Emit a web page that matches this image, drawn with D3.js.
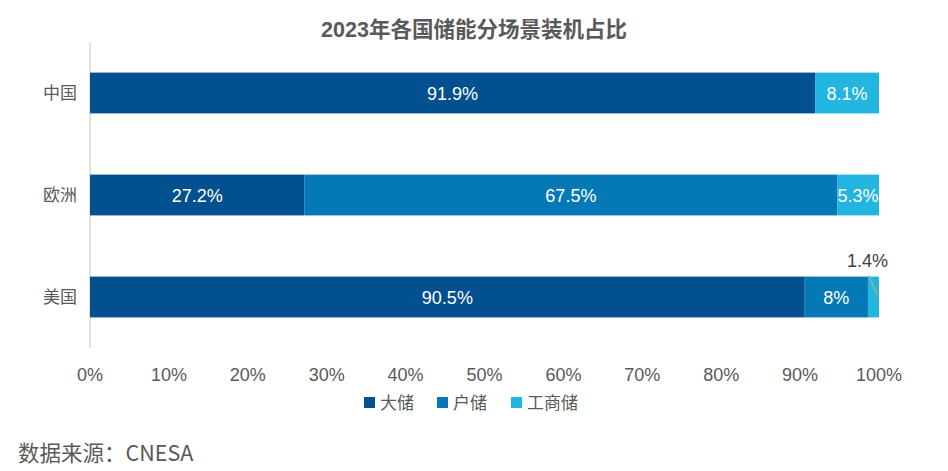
<!DOCTYPE html>
<html><head><meta charset="utf-8">
<script src="https://cdn.jsdelivr.net/npm/d3@7"></script>
<style>body{margin:0;background:#fff}svg{display:block}</style>
</head><body>
<svg id="c" width="948" height="471"></svg>
<script>
const categories = ["中国","欧洲","美国"];
const seriesNames = ["大储","户储","工商储"];
const bigStorage = [91.9, 27.2, 90.5];
const homeStorage = [0, 67.5, 8];
const commercialStorage = [8.1, 5.3, 1.4];
const tickLabels = ["0%","10%","20%","30%","40%","50%","60%","70%","80%","90%","100%"];
const colors = ["#02508f","#0479b5","#21b5e0"];
const seriesValues = [bigStorage, homeStorage, commercialStorage];

const svg = d3.select("#c");
const font = "'Liberation Sans','Noto Sans CJK SC',sans-serif";
const cjk = "'Noto Sans CJK SC',sans-serif";
const x = d3.scaleLinear().domain([0,1]).range([90,879]);
const y = d3.scaleBand().domain(categories).range([42,348]).paddingInner(0.6).paddingOuter(0.3);

svg.append("text").attr("x",474).attr("y",37).attr("text-anchor","middle")
  .attr("font-family",font).attr("font-weight","bold").attr("font-size",21.5).attr("fill","#595959")
  .text("2023年各国储能分场景装机占比");

svg.append("line").attr("x1",90).attr("x2",90).attr("y1",42).attr("y2",348)
  .attr("stroke","#d9d9d9").attr("stroke-width",1.5);

const rows = categories.map((c,i)=>{
  const vals = seriesValues.map(s=>s[i]);
  const total = d3.sum(vals);
  let acc = 0;
  return vals.map((v,j)=>{const seg={cat:c,s:j,v,x0:acc/total,x1:(acc+v)/total};acc+=v;return seg;});
});

rows.forEach(r=>{
  svg.selectAll(null).data(r.filter(d=>d.v>0)).enter().append("rect")
    .attr("x",d=>x(d.x0)).attr("width",d=>x(d.x1)-x(d.x0))
    .attr("y",d=>y(d.cat)).attr("height",y.bandwidth())
    .attr("fill",d=>colors[d.s]);
  svg.selectAll(null).data(r.filter(d=>d.v>3)).enter().append("text")
    .attr("x",d=>(x(d.x0)+x(d.x1))/2).attr("y",d=>y(d.cat)+y.bandwidth()/2+6.5)
    .attr("text-anchor","middle").attr("font-family",font).attr("font-size",18).attr("fill","#fff")
    .text(d=>d.v+"%");
  r.filter(d=>d.v>0 && d.v<=3).forEach(d=>{
    const cx=(x(d.x0)+x(d.x1))/2;
    svg.append("line").attr("x1",cx-5).attr("y1",y(d.cat)-1).attr("x2",cx+4).attr("y2",y(d.cat)+18)
      .attr("stroke","#a6a6a6").attr("stroke-width",1.5);
    svg.append("text").attr("x",cx-6).attr("y",y(d.cat)-10).attr("text-anchor","middle")
      .attr("font-family",font).attr("font-size",18).attr("fill","#404040").text(d.v+"%");
  });
});

svg.selectAll(null).data(categories).enter().append("text")
  .attr("x",77).attr("y",d=>y(d)+y.bandwidth()/2+6).attr("text-anchor","end")
  .attr("font-family",cjk).attr("font-size",17).attr("fill","#595959").text(d=>d);

svg.selectAll(null).data(tickLabels).enter().append("text")
  .attr("x",(d,i)=>x(i/10)).attr("y",381).attr("text-anchor","middle")
  .attr("font-family",font).attr("font-size",18).attr("fill","#595959").text(d=>d);

const lg = [{x:364},{x:437},{x:511}];
seriesNames.forEach((n,i)=>{
  svg.append("rect").attr("x",lg[i].x).attr("y",397).attr("width",11).attr("height",11).attr("fill",colors[i]);
  svg.append("text").attr("x",lg[i].x+16).attr("y",409).attr("font-family",cjk).attr("font-size",17)
    .attr("fill","#595959").text(n);
});

svg.append("text").attr("x",18).attr("y",461).attr("font-family",cjk).attr("font-size",21.5)
  .attr("fill","#595959").text("数据来源：CNESA");
</script>
</body></html>
